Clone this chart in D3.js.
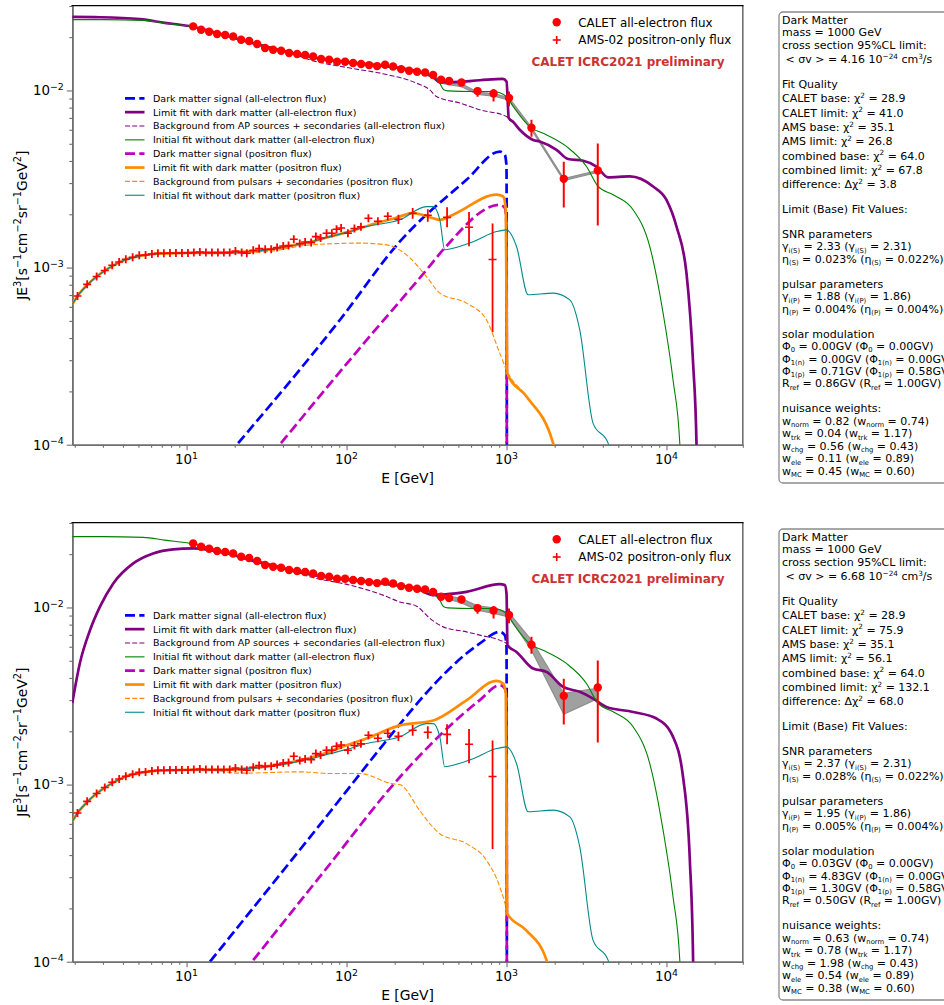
<!DOCTYPE html>
<html>
<head>
<meta charset="utf-8">
<script src="https://cdn.jsdelivr.net/npm/d3@7"></script>
<style>
  body { margin: 0; background: #fff; }
  text { font-family: "DejaVu Sans", sans-serif; white-space: pre; }
</style>
</head>
<body>
<svg id="fig" width="944" height="1005"></svg>
<script>
// ---- axes ----
const xDomain = [1.93, 30000];
const yDomain = [1e-4, 0.0301];
const xMajor = [10, 100, 1000, 10000];
const xMajorLabels = ["10^{1}", "10^{2}", "10^{3}", "10^{4}"];
const xMinor = [2, 3, 4, 5, 6, 7, 8, 9, 20, 30, 40, 50, 60, 70, 80, 90,
  200, 300, 400, 500, 600, 700, 800, 900, 2000, 3000, 4000, 5000, 6000, 7000, 8000, 9000, 20000, 30000];
const yMajor = [1e-4, 1e-3, 1e-2];
const yMajorLabels = ["10^{−4}", "10^{−3}", "10^{−2}"];
const yMinor = [2e-4, 3e-4, 4e-4, 5e-4, 6e-4, 7e-4, 8e-4, 9e-4,
  2e-3, 3e-3, 4e-3, 5e-3, 6e-3, 7e-3, 8e-3, 9e-3, 2e-2, 3e-2];

// ---- CALET all-electron data ----
const calE = [10.99, 12.33, 13.84, 15.52, 17.42, 19.54, 21.93, 24.60, 27.61, 30.97,
  34.75, 38.99, 43.75, 49.09, 55.08, 61.80, 69.34, 77.80, 87.30, 97.95,
  109.9, 123.3, 138.4, 155.2, 174.2, 195.4, 219.3, 246.0, 276.1, 309.7,
  347.5, 389.9, 437.5, 523, 659, 830, 1037, 1432, 2280, 3720];
const calFlux = [0.0230, 0.0220, 0.02146, 0.02083, 0.02056, 0.02018, 0.01934, 0.01901, 0.01829, 0.01736,
  0.01698, 0.01676, 0.01627, 0.01606, 0.01585, 0.01556, 0.01504, 0.01491, 0.01452, 0.01452,
  0.01428, 0.01410, 0.01391, 0.01373, 0.01397, 0.01366, 0.01320, 0.01292, 0.01275, 0.01264,
  0.01222, 0.01149, 0.01130, 0.01110, 0.00992, 0.00962, 0.00906, 0.00616, 0.00317, 0.00353];
const calErrUp = [0.02, 0.02, 0.02, 0.02, 0.02, 0.02, 0.02, 0.02, 0.02, 0.02,
  0.02, 0.02, 0.02, 0.02, 0.02, 0.02, 0.02, 0.02, 0.02, 0.02,
  0.02, 0.02, 0.02, 0.02, 0.02, 0.02, 0.025, 0.025, 0.025, 0.025,
  0.03, 0.03, 0.03, 0.035, 0.05, 0.06, 0.09, 0.11, 0.25, 0.42];
const calErrDn = [0.02, 0.02, 0.02, 0.02, 0.02, 0.02, 0.02, 0.02, 0.02, 0.02,
  0.02, 0.02, 0.02, 0.02, 0.02, 0.02, 0.02, 0.02, 0.02, 0.02,
  0.02, 0.02, 0.02, 0.02, 0.02, 0.02, 0.025, 0.025, 0.025, 0.025,
  0.03, 0.03, 0.03, 0.035, 0.07, 0.10, 0.10, 0.11, 0.31, 0.51];
// gray band (energy-scale nuisance) on the high-energy CALET points
const bandE = [347.5, 389.9, 437.5, 523, 659, 830, 1037, 1432, 2280, 3720];
const bandTopHi = [0.0121, 0.0114, 0.0112, 0.0109, 0.0098, 0.0096, 0.0091, 0.0062, 0.00318, 0.00353];
const bandTopLo = [0.0118, 0.0110, 0.0108, 0.0105, 0.0095, 0.0093, 0.0088, 0.0060, 0.00310, 0.00345];
const bandBotHi = [0.0122, 0.01184, 0.0116, 0.01124, 0.01021, 0.00995, 0.00932, 0.00654, 0.00327, 0.00350];
const bandBotLo = [0.0119, 0.01143, 0.0111, 0.01062, 0.00966, 0.00925, 0.00885, 0.00574, 0.00250, 0.00306];

// ---- AMS-02 positron data ----
const amsE = [2.08, 2.39, 2.74, 3.08, 3.43, 3.79, 4.17, 4.6, 5.06, 5.54,
  6.07, 6.62, 7.21, 7.87, 8.58, 9.35, 10.2, 11.1, 12.1, 13.2,
  14.4, 15.7, 17.1, 18.6, 20.2, 22.1, 23.8, 26.1, 28.4, 31.0,
  33.8, 36.8, 40.2, 43.4, 46.8, 51.0, 55.1, 60.1, 64.3, 68.8,
  75.0, 80.9, 86.6, 92.5, 102, 112, 123, 137, 157, 181,
  211, 259, 322, 425, 583, 818];
const amsFlux = [6.91e-4, 8.04e-4, 8.90e-4, 9.62e-4, 1.030e-3, 1.075e-3, 1.114e-3, 1.144e-3, 1.174e-3, 1.178e-3,
  1.193e-3, 1.204e-3, 1.204e-3, 1.209e-3, 1.209e-3, 1.209e-3, 1.209e-3, 1.215e-3, 1.225e-3, 1.215e-3,
  1.215e-3, 1.215e-3, 1.215e-3, 1.215e-3, 1.241e-3, 1.215e-3, 1.204e-3, 1.252e-3, 1.280e-3, 1.269e-3,
  1.269e-3, 1.297e-3, 1.324e-3, 1.331e-3, 1.445e-3, 1.366e-3, 1.395e-3, 1.384e-3, 1.496e-3, 1.469e-3,
  1.562e-3, 1.562e-3, 1.645e-3, 1.674e-3, 1.562e-3, 1.661e-3, 1.698e-3, 1.899e-3, 1.826e-3, 1.949e-3,
  1.874e-3, 2.026e-3, 1.974e-3, 1.92e-3, 1.69e-3, 1.11e-3];
const amsErrUp = [0.02, 0.02, 0.02, 0.02, 0.02, 0.02, 0.02, 0.02, 0.02, 0.02,
  0.02, 0.02, 0.02, 0.02, 0.02, 0.02, 0.02, 0.02, 0.02, 0.02,
  0.02, 0.02, 0.02, 0.02, 0.025, 0.025, 0.025, 0.025, 0.025, 0.025,
  0.03, 0.03, 0.03, 0.03, 0.03, 0.035, 0.035, 0.035, 0.035, 0.04,
  0.04, 0.04, 0.04, 0.045, 0.045, 0.045, 0.05, 0.05, 0.05, 0.055,
  0.06, 0.07, 0.08, 0.14, 0.22, 0.60];
const amsErrDn = [0.02, 0.02, 0.02, 0.02, 0.02, 0.02, 0.02, 0.02, 0.02, 0.02,
  0.02, 0.02, 0.02, 0.02, 0.02, 0.02, 0.02, 0.02, 0.02, 0.02,
  0.02, 0.02, 0.02, 0.02, 0.025, 0.025, 0.025, 0.025, 0.025, 0.025,
  0.03, 0.03, 0.03, 0.03, 0.03, 0.035, 0.035, 0.035, 0.035, 0.04,
  0.04, 0.04, 0.04, 0.045, 0.045, 0.045, 0.05, 0.05, 0.05, 0.055,
  0.06, 0.07, 0.08, 0.12, 0.22, 0.61];

// ---- model curves [E (GeV), JE^3] ----
// initial fits, same in both panels
const initAll = [[1.93, 0.0251], [3, 0.0251], [5.36, 0.02486], [7.3, 0.0240], [11, 0.0229], [17.3, 0.0206],
  [27.5, 0.0184], [43.5, 0.0166], [69, 0.0151], [109, 0.01435], [176, 0.0137], [279, 0.0128], [347, 0.0119],
  [380, 0.0111], [405, 0.0101], [430, 0.00995], [618, 0.00987], [824, 0.00987], [1000, 0.00925], [1100, 0.00812],
  [1432, 0.00613], [1693, 0.00574], [2371, 0.00483], [3162, 0.00372], [3738, 0.00287], [4637, 0.002576],
  [6183, 0.00212], [7863, 0.001315], [9525, 5.53e-4], [10990, 2.32e-4], [12110, 1.02e-4], [12800, 3e-5]];
const initPos = [[1.93, 6.2e-4], [2.08, 6.9e-4], [2.4, 8.0e-4], [2.74, 8.9e-4], [3.08, 9.6e-4], [3.43, 1.02e-3],
  [4.17, 1.11e-3], [5.06, 1.16e-3], [6.07, 1.19e-3], [7.2, 1.20e-3], [10, 1.21e-3], [15, 1.21e-3], [20, 1.22e-3],
  [30, 1.25e-3], [40, 1.30e-3], [60, 1.40e-3], [80, 1.50e-3], [100, 1.58e-3], [133, 1.706e-3], [215, 1.86e-3],
  [316, 2.21e-3], [348, 2.21e-3], [383, 1.86e-3], [411, 1.26e-3], [463, 1.287e-3], [618, 1.40e-3], [866, 1.597e-3],
  [1000, 1.633e-3], [1155, 1.315e-3], [1365, 7.02e-4], [1955, 7.17e-4], [2487, 6.57e-4], [2870, 4.45e-4],
  [3477, 1.32e-4], [4316, 1.02e-4], [4600, 8e-5]];

// top panel (<sigma v> = 4.16e-24)
const dmAllTop = [[21.0, 1.02e-4], [90.8, 5.06e-4], [215, 1.40e-3], [562, 3.13e-3], [908, 4.52e-3], [976, 4.33e-3],
  [1000, 3.72e-3], [1008, 1e-6]];
const limAllTop = [[1.93, 0.0260], [2.87, 0.0259], [5.1, 0.02525], [7.3, 0.0241], [10.9, 0.0229], [17.3, 0.0205],
  [27.5, 0.01824], [43.5, 0.01644], [69, 0.0151], [109, 0.01434], [176, 0.0137], [279, 0.01276], [351, 0.0118],
  [383, 0.01113], [443, 0.01113], [681, 0.01142], [948, 0.01164], [1000, 0.01124], [1033, 0.00698], [1094, 0.00668],
  [1210, 0.0060], [1466, 0.00526], [1614, 0.00515], [2054, 0.00462], [2427, 0.0041], [3012, 0.00401], [3652, 0.00372],
  [4316, 0.00323], [5899, 0.00327], [8248, 0.00287], [10000, 0.00241], [11548, 0.001706], [13335, 9.3e-4],
  [14670, 2.88e-4], [15400, 1.02e-4], [15700, 3e-5]];
const bgAllTop = [[1.93, 0.0260], [2.87, 0.0259], [5.1, 0.02525], [7.3, 0.0241], [10.9, 0.0229], [17.3, 0.0205],
  [27.5, 0.01824], [43.5, 0.01644], [59, 0.0149], [105, 0.01338], [169, 0.01243], [274, 0.0110], [331, 0.01009],
  [365, 0.00925], [511, 0.00849], [681, 0.00778], [1000, 0.00713], [1033, 0.00698], [1094, 0.00668], [1210, 0.0060],
  [1466, 0.00526], [1614, 0.00515], [2054, 0.00462], [2427, 0.0041], [3012, 0.00401], [3652, 0.00372], [4316, 0.00323],
  [5899, 0.00327], [8248, 0.00287], [10000, 0.00241], [11548, 0.001706], [13335, 9.3e-4], [14670, 2.88e-4],
  [15400, 1.02e-4], [15700, 3e-5]];
const dmPosTop = [[38.9, 1.02e-4], [121, 3.51e-4], [316, 9.7e-4], [411, 1.29e-3], [908, 2.26e-3], [976, 2.17e-3],
  [1000, 1.74e-3], [1008, 1e-6]];
const limPosTop = [[1.93, 6.2e-4], [2.08, 6.9e-4], [2.4, 8.0e-4], [2.74, 8.9e-4], [3.08, 9.6e-4], [3.43, 1.02e-3],
  [4.17, 1.11e-3], [5.06, 1.16e-3], [6.07, 1.19e-3], [7.2, 1.20e-3], [10, 1.21e-3], [15, 1.21e-3], [20, 1.22e-3],
  [30, 1.25e-3], [40, 1.30e-3], [60, 1.40e-3], [80, 1.50e-3], [100, 1.58e-3], [130, 1.70e-3], [160, 1.80e-3],
  [200, 1.90e-3], [261, 2.03e-3], [347, 1.90e-3], [383, 1.86e-3], [464, 1.99e-3], [866, 2.58e-3], [953, 2.52e-3],
  [990, 2.12e-3], [1009, 2.53e-4], [1334, 1.87e-4], [1955, 1.02e-4], [2100, 8e-5]];
const bgPosTop = [[1.93, 6.2e-4], [2.08, 6.9e-4], [2.4, 8.0e-4], [2.74, 8.9e-4], [3.08, 9.6e-4], [3.43, 1.02e-3],
  [4.17, 1.11e-3], [5.06, 1.16e-3], [6.07, 1.19e-3], [7.2, 1.20e-3], [10, 1.21e-3], [15, 1.21e-3], [20, 1.21e-3],
  [31.6, 1.23e-3], [59, 1.343e-3], [121, 1.374e-3], [178, 1.343e-3], [237, 1.18e-3], [316, 8.9e-4], [383, 7.17e-4],
  [562, 6.3e-4], [750, 5.06e-4], [908, 3.28e-4], [1000, 2.64e-4], [1334, 1.87e-4], [1955, 1.02e-4], [2100, 8e-5]];

// bottom panel (<sigma v> = 6.68e-24)
const dmAllBot = [[14.0, 1.0e-4], [63.4, 5.47e-4], [226, 2.31e-3], [287, 2.99e-3], [681, 6.26e-3], [908, 7.28e-3],
  [976, 6.97e-3], [1000, 5.99e-3], [1008, 1e-6]];
const limAllBot = [[1.93, 2.89e-3], [2.15, 4.83e-3], [2.49, 7.44e-3], [2.87, 0.01008], [3.48, 0.01367], [4.64, 0.01773],
  [6.18, 0.02018], [8.24, 0.02127], [11.0, 0.02154], [17.3, 0.0203], [27.5, 0.0181], [43.5, 0.0163], [69, 0.0150],
  [109, 0.01425], [176, 0.0136], [279, 0.0127], [348, 0.01174], [402, 0.01184], [562, 0.01225], [908, 0.01353],
  [976, 0.01337], [1000, 0.01199], [1014, 0.00612], [1155, 0.00561], [1466, 0.00452], [1778, 0.00433], [2259, 0.00356],
  [2870, 0.00334], [3477, 0.00306], [4217, 0.00274], [6183, 0.00257], [8660, 0.00236], [10990, 0.00186],
  [12700, 0.0011], [14000, 3.73e-4], [14670, 1.02e-4], [14900, 3e-5]];
const bgAllBot = [[1.93, 2.89e-3], [2.15, 4.83e-3], [2.49, 7.44e-3], [2.87, 0.01008], [3.48, 0.01367], [4.64, 0.01773],
  [6.18, 0.02018], [8.24, 0.02127], [11.0, 0.02154], [17.3, 0.0203], [27.5, 0.0181], [43.5, 0.0163], [59, 0.01489],
  [105, 0.01337], [169, 0.01174], [215, 0.01075], [274, 0.01017], [331, 0.0087], [402, 0.00777], [562, 0.00728],
  [681, 0.00698], [1000, 0.00626], [1014, 0.00612], [1155, 0.00561], [1466, 0.00452], [1778, 0.00433], [2259, 0.00356],
  [2870, 0.00334], [3477, 0.00306], [4217, 0.00274], [6183, 0.00257], [8660, 0.00236], [10990, 0.00186],
  [12700, 0.0011], [14000, 3.73e-4], [14670, 1.02e-4], [14900, 3e-5]];
const dmPosBot = [[26.1, 1.02e-4], [75, 3.37e-4], [215, 1.10e-3], [681, 3.0e-3], [908, 3.64e-3], [976, 3.49e-3],
  [1000, 2.99e-3], [1008, 1e-6]];
const limPosBot = [[1.93, 6.2e-4], [2.08, 6.9e-4], [2.4, 8.0e-4], [2.74, 8.9e-4], [3.08, 9.6e-4], [3.43, 1.02e-3],
  [4.17, 1.11e-3], [5.06, 1.16e-3], [6.07, 1.19e-3], [7.2, 1.20e-3], [10, 1.21e-3], [15, 1.21e-3], [20, 1.22e-3],
  [30, 1.26e-3], [46.4, 1.343e-3], [68, 1.466e-3], [100, 1.667e-3], [133, 1.82e-3], [215, 2.16e-3], [348, 2.30e-3],
  [562, 2.99e-3], [866, 3.85e-3], [953, 3.72e-3], [990, 3.27e-3], [1009, 1.87e-4], [1334, 1.50e-4], [1778, 1.02e-4],
  [1900, 8e-5]];
const bgPosBot = [[1.93, 6.2e-4], [2.08, 6.9e-4], [2.4, 8.0e-4], [2.74, 8.9e-4], [3.08, 9.6e-4], [3.43, 1.02e-3],
  [4.17, 1.11e-3], [5.06, 1.16e-3], [6.07, 1.19e-3], [7.2, 1.20e-3], [10, 1.21e-3], [15, 1.20e-3], [21.6, 1.16e-3],
  [51, 1.18e-3], [82, 1.154e-3], [121, 1.154e-3], [195, 1.01e-3], [215, 1.0e-3], [287, 7.13e-4], [331, 6.03e-4],
  [383, 5.28e-4], [562, 4.64e-4], [750, 3.73e-4], [908, 2.64e-4], [1000, 1.95e-4], [1009, 1.87e-4], [1334, 1.50e-4],
  [1778, 1.02e-4], [1900, 8e-5]];

// ---- legend / text ----
const legendLabels = [
  "Dark matter signal (all-electron flux)",
  "Limit fit with dark matter (all-electron flux)",
  "Background from AP sources + secondaries (all-electron flux)",
  "Initial fit without dark matter (all-electron flux)",
  "Dark matter signal (positron flux)",
  "Limit fit with dark matter (positron flux)",
  "Background from pulsars + secondaries (positron flux)",
  "Initial fit without dark matter (positron flux)"
];
const dataLabels = ["CALET all-electron flux", "AMS-02 positron-only flux"];
const stampText = "CALET ICRC2021 preliminary";

const topBox = ["Dark Matter", "mass = 1000 GeV", "cross section 95%CL limit:",
  " < σv > = 4.16 10^{−24} cm^{3}/s", "", "Fit Quality",
  "CALET base: χ^{2} = 28.9", "CALET limit: χ^{2} = 41.0", "AMS base: χ^{2} = 35.1", "AMS limit: χ^{2} = 26.8",
  "combined base: χ^{2} = 64.0", "combined limit: χ^{2} = 67.8", "difference: Δχ^{2} = 3.8", "",
  "Limit (Base) Fit Values:", "", "SNR parameters",
  "γ_{i(S)} = 2.33 (γ_{i(S)} = 2.31)", "η_{(S)} = 0.023% (η_{(S)} = 0.022%)", "",
  "pulsar parameters", "γ_{i(P)} = 1.88 (γ_{i(P)} = 1.86)", "η_{(P)} = 0.004% (η_{(P)} = 0.004%)", "",
  "solar modulation", "Φ_{0} = 0.00GV (Φ_{0} = 0.00GV)", "Φ_{1(n)} = 0.00GV (Φ_{1(n)} = 0.00GV)",
  "Φ_{1(p)} = 0.71GV (Φ_{1(p)} = 0.58GV)", "R_{ref} = 0.86GV (R_{ref} = 1.00GV)", "",
  "nuisance weights:", "w_{norm} = 0.82 (w_{norm} = 0.74)", "w_{trk} = 0.04 (w_{trk} = 1.17)",
  "w_{chg} = 0.56 (w_{chg} = 0.43)", "w_{ele} = 0.11 (w_{ele} = 0.89)", "w_{MC} = 0.45 (w_{MC} = 0.60)"];
const botBox = ["Dark Matter", "mass = 1000 GeV", "cross section 95%CL limit:",
  " < σv > = 6.68 10^{−24} cm^{3}/s", "", "Fit Quality",
  "CALET base: χ^{2} = 28.9", "CALET limit: χ^{2} = 75.9", "AMS base: χ^{2} = 35.1", "AMS limit: χ^{2} = 56.1",
  "combined base: χ^{2} = 64.0", "combined limit: χ^{2} = 132.1", "difference: Δχ^{2} = 68.0", "",
  "Limit (Base) Fit Values:", "", "SNR parameters",
  "γ_{i(S)} = 2.37 (γ_{i(S)} = 2.31)", "η_{(S)} = 0.028% (η_{(S)} = 0.022%)", "",
  "pulsar parameters", "γ_{i(P)} = 1.95 (γ_{i(P)} = 1.86)", "η_{(P)} = 0.005% (η_{(P)} = 0.004%)", "",
  "solar modulation", "Φ_{0} = 0.03GV (Φ_{0} = 0.00GV)", "Φ_{1(n)} = 4.83GV (Φ_{1(n)} = 0.00GV)",
  "Φ_{1(p)} = 1.30GV (Φ_{1(p)} = 0.58GV)", "R_{ref} = 0.50GV (R_{ref} = 1.00GV)", "",
  "nuisance weights:", "w_{norm} = 0.63 (w_{norm} = 0.74)", "w_{trk} = 0.78 (w_{trk} = 1.17)",
  "w_{chg} = 1.98 (w_{chg} = 0.43)", "w_{ele} = 0.54 (w_{ele} = 0.89)", "w_{MC} = 0.38 (w_{MC} = 0.60)"];

// line styles, in legend order
const styles = [
  { c: "#0000ff", w: 2.7, d: "10,4.3" },
  { c: "#800080", w: 2.7, d: null },
  { c: "#800080", w: 1.1, d: "5,2.2" },
  { c: "#008000", w: 1.1, d: null },
  { c: "#bf00bf", w: 2.7, d: "10,4.3" },
  { c: "#ff8c00", w: 2.7, d: null },
  { c: "#ff8c00", w: 1.1, d: "5,2.2" },
  { c: "#008b8b", w: 1.1, d: null }
];

const panels = [
  { off: 0, curves: [dmAllTop, limAllTop, bgAllTop, initAll, dmPosTop, limPosTop, bgPosTop, initPos],
    bandHi: bandTopHi, bandLo: bandTopLo, box: topBox },
  { off: 517, curves: [dmAllBot, limAllBot, bgAllBot, initAll, dmPosBot, limPosBot, bgPosBot, initPos],
    bandHi: bandBotHi, bandLo: bandBotLo, box: botBox }
];

var svg = d3.select("#fig");
var L = 72.3, R = 742.8, T = 5.7, B = 444.7;
var x = d3.scaleLog().domain(xDomain).range([L, R]);
var y = d3.scaleLog().domain(yDomain).range([B, T]);

// text with _{..} subscripts and ^{..} superscripts, like mathtext
function richText(sel, str, size, subScale, supScale) {
  subScale = subScale || 0.7; supScale = supScale || 0.7;
  var re = /([_^])\{([^}]*)\}/g, last = 0, m, parts = [];
  while ((m = re.exec(str)) !== null) {
    if (m.index > last) parts.push({ t: str.slice(last, m.index), k: 0 });
    parts.push({ t: m[2], k: m[1] == "^" ? 1 : -1 });
    last = re.lastIndex;
  }
  if (last < str.length) parts.push({ t: str.slice(last), k: 0 });
  var shift = 0;
  parts.forEach(function(p) {
    var target = p.k == 1 ? -0.4 * size : (p.k == -1 ? 0.22 * size : 0);
    var fs = p.k == 1 ? supScale * size : (p.k == -1 ? subScale * size : size);
    sel.append("tspan")
      .attr("dy", (target - shift).toFixed(2))
      .style("font-size", fs + "px")
      .text(p.t);
    shift = target;
  });
  return sel;
}

function drawPanel(p, pi) {
  var g = svg.append("g").attr("transform", "translate(0," + p.off + ")");
  var cid = "clip" + pi;
  g.append("clipPath").attr("id", cid).append("rect")
    .attr("x", L).attr("y", T).attr("width", R - L).attr("height", B - T);

  // axes
  var axCol = "#6f6f6f";
  var gx = g.append("g").attr("transform", "translate(0," + B + ")");
  gx.call(d3.axisBottom(x).tickValues(xMinor).tickSize(3).tickSizeOuter(0).tickFormat(""));
  gx.append("g").call(d3.axisBottom(x).tickValues(xMajor).tickSize(5.5).tickSizeOuter(0).tickFormat(""));
  var gy = g.append("g").attr("transform", "translate(" + L + ",0)");
  gy.call(d3.axisLeft(y).tickValues(yMinor).tickSize(3).tickSizeOuter(0).tickFormat(""));
  gy.append("g").call(d3.axisLeft(y).tickValues(yMajor).tickSize(5.5).tickSizeOuter(0).tickFormat(""));
  g.selectAll(".domain").attr("stroke", axCol).attr("stroke-width", 1.6);
  g.selectAll(".tick line").attr("stroke", axCol).attr("stroke-width", 1.1);
  g.append("line").attr("x1", R).attr("x2", R).attr("y1", T).attr("y2", B)
    .attr("stroke", axCol).attr("stroke-width", 1.6);
  g.append("line").attr("x1", L - 0.8).attr("x2", R + 0.8).attr("y1", T).attr("y2", T)
    .attr("stroke", "#000").attr("stroke-width", 1.2);

  xMajor.forEach(function(v, i) {
    richText(g.append("text").attr("x", x(v)).attr("y", B + 19.5)
      .attr("text-anchor", "middle").attr("fill", "#000"), xMajorLabels[i], 13.4);
  });
  yMajor.forEach(function(v, i) {
    richText(g.append("text").attr("x", L - 8.5).attr("y", y(v) + 4.8)
      .attr("text-anchor", "end").attr("fill", "#000"), yMajorLabels[i], 13.4);
  });
  g.append("text").attr("x", (L + R) / 2).attr("y", B + 38.5).attr("text-anchor", "middle")
    .style("font-size", "13.9px").text("E [GeV]");
  richText(g.append("text").attr("transform", "translate(26.5," + ((T + B) / 2) + ") rotate(-90)")
    .attr("text-anchor", "middle"), "JE^{3}[s^{−1}cm^{−2}sr^{−1}GeV^{2}]", 13.9);

  var plot = g.append("g").attr("clip-path", "url(#" + cid + ")");

  // gray band
  var band = d3.area().x(function(d, i) { return x(bandE[i]); })
    .y0(function(d, i) { return y(p.bandLo[i]); })
    .y1(function(d, i) { return y(p.bandHi[i]); });
  plot.append("path").datum(bandE).attr("d", band)
    .attr("fill", "#a0a0a0").attr("stroke", "#8f8f8f").attr("stroke-width", 1.2);

  // model curves
  var line = d3.line().x(function(d) { return x(d[0]); }).y(function(d) { return y(d[1]); })
    .curve(d3.curveMonotoneX);
  p.curves.forEach(function(c, i) {
    var s = styles[i];
    plot.append("path").datum(c).attr("d", line).attr("fill", "none")
      .attr("stroke", s.c).attr("stroke-width", s.w)
      .attr("stroke-dasharray", s.d).attr("stroke-linejoin", "round");
  });

  // CALET points
  plot.selectAll(".calErr").data(calE).enter().append("line")
    .attr("x1", function(d) { return x(d); }).attr("x2", function(d) { return x(d); })
    .attr("y1", function(d, i) { return y(calFlux[i] * (1 + calErrUp[i])); })
    .attr("y2", function(d, i) { return y(calFlux[i] * (1 - calErrDn[i])); })
    .attr("stroke", "#ff0000").attr("stroke-width", 2);
  plot.selectAll(".cal").data(calE).enter().append("circle")
    .attr("cx", function(d) { return x(d); })
    .attr("cy", function(d, i) { return y(calFlux[i]); })
    .attr("r", 4.2).attr("fill", "#ff0000");

  // AMS points
  plot.selectAll(".amsErr").data(amsE).enter().append("line")
    .attr("x1", function(d) { return x(d); }).attr("x2", function(d) { return x(d); })
    .attr("y1", function(d, i) { return Math.min(y(amsFlux[i] * (1 + amsErrUp[i])), y(amsFlux[i]) - 4); })
    .attr("y2", function(d, i) { return Math.max(y(amsFlux[i] * (1 - amsErrDn[i])), y(amsFlux[i]) + 4); })
    .attr("stroke", "#ff0000").attr("stroke-width", 1.8);
  plot.selectAll(".ams").data(amsE).enter().append("line")
    .attr("x1", function(d) { return x(d) - 4; }).attr("x2", function(d) { return x(d) + 4; })
    .attr("y1", function(d, i) { return y(amsFlux[i]); })
    .attr("y2", function(d, i) { return y(amsFlux[i]); })
    .attr("stroke", "#ff0000").attr("stroke-width", 1.6);

  // model legend
  var lg = g.append("g");
  legendLabels.forEach(function(t, i) {
    var ry = 98.3 + 13.85 * i, s = styles[i];
    lg.append("line").attr("x1", 125).attr("x2", 144.5).attr("y1", ry).attr("y2", ry)
      .attr("stroke", s.c).attr("stroke-width", s.w).attr("stroke-dasharray", s.d);
    lg.append("text").attr("x", 153).attr("y", ry + 3.4).style("font-size", "9.5px").text(t);
  });

  // data legend
  g.append("circle").attr("cx", 556.7).attr("cy", 22.3).attr("r", 4.2).attr("fill", "#ff0000");
  g.append("line").attr("x1", 552.7).attr("x2", 560.7).attr("y1", 40).attr("y2", 40)
    .attr("stroke", "#ff0000").attr("stroke-width", 1.6);
  g.append("line").attr("x1", 556.7).attr("x2", 556.7).attr("y1", 36).attr("y2", 44)
    .attr("stroke", "#ff0000").attr("stroke-width", 1.6);
  g.append("text").attr("x", 578.3).attr("y", 26.5).style("font-size", "11.9px").text(dataLabels[0]);
  g.append("text").attr("x", 578.3).attr("y", 44.2).style("font-size", "11.9px").text(dataLabels[1]);
  g.append("text").attr("x", 628).attr("y", 66.3).attr("text-anchor", "middle")
    .style("font-size", "12px").style("font-weight", "bold").attr("fill", "#cc3333").text(stampText);

  // fit summary box
  g.append("rect").attr("x", 779).attr("y", 12).attr("width", 200).attr("height", 471)
    .attr("rx", 4).attr("fill", "#fff").attr("stroke", "#8a8a8a").attr("stroke-width", 1.3);
  var ty = 24;
  p.box.forEach(function(t, i) {
    if (i > 0) ty += t.indexOf("^{") >= 0 ? 14.3 : 12.45;
    if (t === "") return;
    richText(g.append("text").attr("x", 782).attr("y", ty), t, 11, 0.62, 0.66);
  });
}

panels.forEach(drawPanel);
</script>
</body>
</html>
